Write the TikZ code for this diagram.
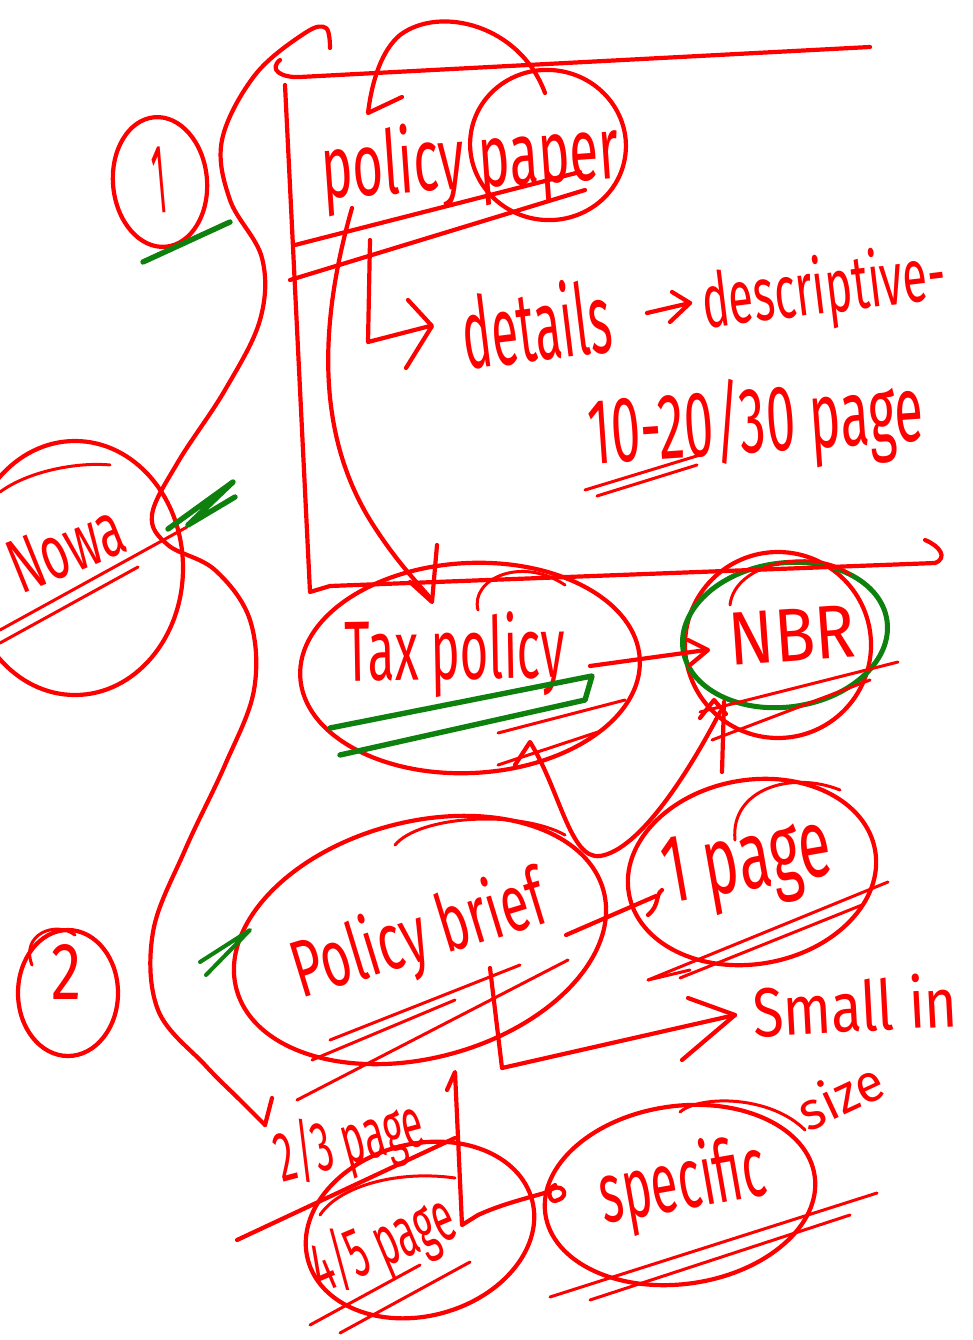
\documentclass[tikz,border=0pt]{standalone}
\usepackage{fontspec}
\setmainfont{Fira Sans}
\usetikzlibrary{shapes.geometric}
\definecolor{ink}{RGB}{255,0,0}
\definecolor{leaf}{RGB}{14,128,14}
% stretch a handwritten word to a given width and total height (pt)
\newcommand\hw[3]{\resizebox*{#1pt}{#2pt}{#3}}
\begin{document}
\begin{tikzpicture}[x=1pt,y=-1pt,line cap=round,line join=round,
  pen/.style={draw=ink,line width=4.2pt},
  fine pen/.style={draw=ink,line width=3pt},
  green pen/.style={draw=leaf,line width=5.4pt},
  bubble/.style={ellipse,draw=ink,line width=4.2pt,inner sep=0pt},
  gbubble/.style={ellipse,draw=leaf,line width=5pt,inner sep=0pt},
  lbl/.style={text=ink,inner sep=0pt}]
\useasboundingbox (0,0) rectangle (972,1340);

% ---------- rings ----------
\node[bubble,minimum width=94pt,minimum height=130pt,rotate=5] (one) at (160,182) {};
\node[bubble,minimum width=156pt,minimum height=150pt,rotate=-10] (paperring) at (548,145) {};
\node[bubble,minimum width=216pt,minimum height=254pt] (nowaring) at (75,568) {};
\node[bubble,minimum width=340pt,minimum height=210pt,rotate=3] (tax) at (470,668) {};
\node[bubble,minimum width=186pt,minimum height=186pt] (nbr) at (778,645) {};
\node[gbubble,minimum width=206pt,minimum height=144pt,rotate=8] (nbrg) at (785,635) {};
\node[bubble,minimum width=380pt,minimum height=236pt,rotate=15] (brief) at (420,940) {};
\node[bubble,minimum width=250pt,minimum height=184pt,rotate=10] (page1) at (752,872) {};
\node[bubble,minimum width=100pt,minimum height=126pt] (two) at (68,993) {};
\node[bubble,minimum width=232pt,minimum height=172pt,rotate=15] (four) at (420,1230) {};
\node[bubble,minimum width=272pt,minimum height=178pt,rotate=8] (spec) at (680,1195) {};

% second strokes over the rings
\draw[pen] (545,93) .. controls (520,25) and (440,5) .. (400,35) .. controls (382,50) and (372,80) .. (368,113) -- (402,97);
\draw[fine pen] (478,610) .. controls (470,580) and (520,555) .. (565,585);
\draw[fine pen] (730,605) .. controls (735,560) and (820,548) .. (850,575);
\draw[fine pen] (395,845) .. controls (420,815) and (520,810) .. (565,835);
\draw[fine pen] (735,840) .. controls (730,790) and (790,770) .. (840,790);
\draw[fine pen] (32,965) .. controls (20,935) and (55,920) .. (75,935);
\draw[fine pen] (680,1112) .. controls (700,1095) and (770,1095) .. (805,1130);
\draw[fine pen] (320,1215) .. controls (340,1185) and (400,1170) .. (455,1178);
\draw[fine pen] (0,492) .. controls (30,470) and (80,462) .. (110,465);

% ---------- open frame round the first item ----------
\draw[pen] (280,60) .. controls (268,70) and (282,78) .. (300,77) -- (870,47);
\draw[pen] (285,85) -- (310,592) -- (330,586) -- (935,563) .. controls (948,558) and (940,546) .. (925,540);

% ---------- labels ----------
\node[lbl,rotate=5] (t1) at (160,180) {\hw{14}{66}{1}};
\node[lbl,rotate=4] (tpaper) at (470,163) {\hw{298}{88}{policy paper}};
\node[lbl,rotate=7] (tdetails) at (536,323) {\hw{150}{78}{details}};
\node[lbl,rotate=7] (tdesc) at (824,292) {\hw{245}{75}{descriptive-}};
\node[lbl,rotate=4] (tpages) at (756,425) {\hw{335}{95}{10-20/30 page}};
\node[lbl,rotate=1] (ttax) at (455,655) {\hw{220}{85}{Tax policy}};
\node[lbl,rotate=4] (tnbr) at (792,635) {\hw{127}{52}{NBR}};
\node[lbl,rotate=17] (tbrief) at (420,938) {\hw{262}{80}{Policy brief}};
\node[lbl,rotate=10] (tpage1) at (748,867) {\hw{170}{85}{1 page}};
\node[lbl,rotate=3] (tsmall) at (855,1005) {\hw{205}{55}{Small in}};
\node[lbl,rotate=25] (tsize) at (840,1095) {\hw{88}{42}{size}};
\node[lbl] (t2) at (67,972) {\hw{30}{55}{2}};
\node[lbl,rotate=15] (tpg23) at (350,1143) {\hw{150}{72}{2/3 page}};
\node[lbl,rotate=23] (tpg45) at (383,1245) {\hw{150}{72}{4/5 page}};
\node[lbl,rotate=10] (tspec) at (683,1185) {\hw{168}{85}{specific}};
\node[lbl,rotate=22] (tnowa) at (66,548) {\hw{118}{54}{Nowa}};

% ---------- underlines and hatching ----------
\draw[pen] (295,245) -- (580,172);
\draw[pen] (290,280) -- (585,190);
\draw[fine pen] (0,630) -- (187,527);
\draw[fine pen] (0,643) -- (138,567);
\draw[fine pen] (585,490) -- (700,455);
\draw[fine pen] (597,496) -- (697,465);
\draw[fine pen] (498,733) -- (625,700);
\draw[fine pen] (498,765) -- (598,732);
\draw[fine pen] (700,712) -- (898,662);
\draw[fine pen] (712,740) -- (870,680);
\draw[fine pen] (330,1040) -- (520,965);
\draw[fine pen] (312,1060) -- (455,1000);
\draw[fine pen] (297,1100) -- (568,960);
\draw[fine pen] (648,980) -- (888,882);
\draw[fine pen] (648,980) -- (690,970);
\draw[fine pen] (680,978) -- (862,905);
\draw[pen] (237,1240) -- (455,1138);
\draw[fine pen] (310,1325) -- (420,1265);
\draw[fine pen] (340,1333) -- (470,1262);
\draw[fine pen] (550,1297) -- (877,1193);
\draw[fine pen] (590,1300) -- (850,1215);

% green marks
\draw[green pen] (143,262) -- (230,222);
\draw[green pen] (168,529) -- (233,482) -- (188,525) -- (235,497);
\draw[green pen] (330,728) -- (592,676) -- (585,700) -- (340,755);
\draw[green pen,line width=4pt] (200,962) -- (250,930) -- (206,975);

% ---------- connectors ----------
% long stroke from the frame past the rings down to the second item
\draw[pen] plot[smooth,tension=0.6] coordinates {(330,48) (326,28) (305,33) (255,75) (222,140) (230,200) (262,258) (260,320) (225,390) (178,462) (152,515) (168,545) (215,570) (250,620) (254,690) (225,765) (185,850) (153,932) (158,1010) (205,1065) (240,1100) (265,1125)};
\draw[pen] (265,1125) -- (272,1098);

% policy paper -> details
\coordinate (hk) at (370,240);
\draw[pen] (hk) -- (368,342) -- (430,326);
\draw[pen] (408,300) -- (432,326) -- (406,368);
% details -> descriptive
\draw[pen] (647,313) -- (690,303);
\draw[pen] (672,292) -- (690,303) -- (670,322);

% policy paper -> tax policy
\draw[pen] (352,208) .. controls (320,320) and (315,430) .. (370,520) .. controls (395,560) and (415,580) .. (432,600);
\draw[pen] (410,582) -- (432,602) -- (437,545);

% tax policy -> NBR
\draw[pen] (590,666) -- (706,650);
\draw[pen] (688,640) -- (708,650) -- (690,665);

% tax policy -> NBR round the brief
\draw[pen] (515,765) -- (530,742) .. controls (560,790) and (570,860) .. (600,856) .. controls (640,850) and (690,770) .. (720,712);
\draw[pen] (700,718) -- (714,700) -- (726,714);
\draw[pen] (724,702) -- (722,772);

% brief -> 1 page
\draw[pen] (566,935) -- (656,896);
\draw[pen] (648,915) .. controls (660,905) and (655,895) .. (662,890);

% brief -> small in size
\draw[pen] (490,968) -- (502,1068) -- (735,1015);
\draw[pen] (688,998) -- (735,1015) -- (682,1060);

% brief -> 4/5 page -> specific
\draw[pen] (447,1090) -- (455,1072) -- (462,1225) -- (478,1215) .. controls (500,1205) and (520,1200) .. (548,1192);
\draw[pen] (548,1192) .. controls (560,1180) and (572,1195) .. (558,1200) .. controls (550,1205) and (545,1190) .. (555,1185);
\end{tikzpicture}
\end{document}
